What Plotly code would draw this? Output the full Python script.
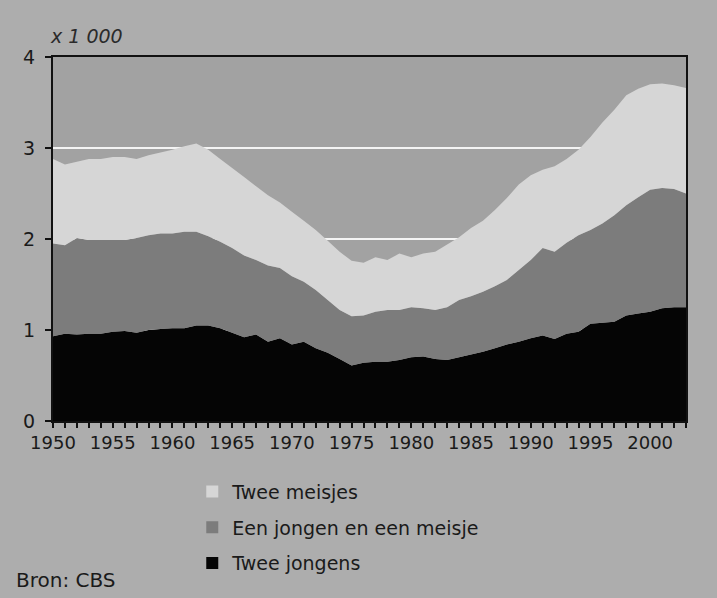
import plotly.graph_objects as go

years = list(range(1950, 2004))

# values x 1 000
twee_jongens = [0.93, 0.96, 0.95, 0.96, 0.96, 0.98, 0.99, 0.97, 1.00, 1.01,
                1.02, 1.02, 1.05, 1.05, 1.02, 0.97, 0.92, 0.95, 0.87, 0.91,
                0.84, 0.87, 0.80, 0.75, 0.68, 0.61, 0.64, 0.65, 0.65, 0.67,
                0.70, 0.71, 0.68, 0.67, 0.70, 0.73, 0.76, 0.80, 0.84, 0.87,
                0.91, 0.94, 0.90, 0.96, 0.98, 1.07, 1.08, 1.09, 1.16, 1.18,
                1.20, 1.24, 1.25, 1.25]
jongen_meisje = [1.02, 0.97, 1.06, 1.03, 1.03, 1.01, 1.00, 1.04, 1.04, 1.05,
                 1.04, 1.06, 1.03, 0.98, 0.95, 0.93, 0.90, 0.82, 0.84, 0.77,
                 0.75, 0.66, 0.64, 0.58, 0.54, 0.54, 0.52, 0.55, 0.57, 0.55,
                 0.55, 0.53, 0.54, 0.58, 0.63, 0.64, 0.66, 0.68, 0.71, 0.79,
                 0.86, 0.96, 0.96, 1.00, 1.06, 1.03, 1.09, 1.17, 1.21, 1.28,
                 1.34, 1.32, 1.30, 1.25]
twee_meisjes = [0.93, 0.89, 0.84, 0.89, 0.89, 0.91, 0.91, 0.87, 0.88, 0.89,
                0.92, 0.94, 0.97, 0.95, 0.91, 0.88, 0.86, 0.81, 0.77, 0.72,
                0.71, 0.67, 0.66, 0.65, 0.64, 0.61, 0.58, 0.60, 0.55, 0.62,
                0.55, 0.60, 0.64, 0.69, 0.69, 0.75, 0.78, 0.84, 0.90, 0.94,
                0.93, 0.86, 0.94, 0.92, 0.94, 1.02, 1.11, 1.16, 1.21, 1.19,
                1.16, 1.15, 1.14, 1.16]

series_names = ["Twee jongens", "Een jongen en een meisje", "Twee meisjes"]
series_values = [twee_jongens, jongen_meisje, twee_meisjes]
series_colors = ["#050505", "#7c7c7c", "#d6d6d6"]

tick_years = list(range(1950, 2001, 5))
y_ticks = [0, 1, 2, 3, 4]

FONT = "DejaVu Sans, Verdana, sans-serif"

fig = go.Figure()
for name, vals, col in zip(series_names, series_values, series_colors):
    fig.add_trace(go.Scatter(
        x=years, y=vals, name=name, stackgroup="one", mode="none",
        fillcolor=col, line=dict(width=0), showlegend=False,
        hoverinfo="x+y+name"))

# legend entries (small squares), listed top to bottom
for name, col in reversed(list(zip(series_names, series_colors))):
    fig.add_trace(go.Scatter(
        x=[None], y=[None], name=name, mode="markers",
        marker=dict(symbol="square", size=12, color=col,
                    line=dict(width=0)),
        legendgroup=name, showlegend=True))

fig.update_layout(
    width=717, height=598,
    margin=dict(l=53, r=31, t=57, b=177),
    paper_bgcolor="#adadad",
    plot_bgcolor="#a2a2a2",
    font=dict(family=FONT, size=18, color="#1a1a1a"),
    showlegend=True,
    legend=dict(
        x=0.220, y=-0.142, xanchor="left", yanchor="top",
        bgcolor="rgba(0,0,0,0)", font=dict(size=19, color="#1a1a1a"),
        traceorder="grouped", tracegroupgap=8, itemwidth=30),
    xaxis=dict(
        range=[1950, 2003], tickmode="array", tickvals=tick_years,
        ticktext=[str(y) for y in tick_years],
        ticks="outside", ticklen=5, tickcolor="#111", tickwidth=1.5,
        minor=dict(dtick=1, tick0=1950, ticks="outside", ticklen=5,
                   tickcolor="#111", tickwidth=1.5),
        showgrid=False, zeroline=False,
        showline=True, linecolor="#111", linewidth=1.5, mirror=True,
        tickfont=dict(size=18, color="#1a1a1a")),
    yaxis=dict(
        range=[0, 4], tickmode="array", tickvals=y_ticks,
        ticktext=[str(v) for v in y_ticks],
        ticks="outside", ticklen=6, tickcolor="#111", tickwidth=1.5,
        ticklabelstandoff=6,
        showgrid=True, gridcolor="#f4f4f4", gridwidth=2,
        zeroline=False,
        showline=True, linecolor="#111", linewidth=2, mirror=True,
        tickfont=dict(size=19, color="#1a1a1a")),
    annotations=[
        dict(text="<i>x 1 000</i>", xref="paper", yref="paper",
             x=-0.008, y=1.058, xanchor="left", yanchor="middle",
             showarrow=False, font=dict(size=19, color="#2a2a2a")),
        dict(text="Bron: CBS", xref="paper", yref="paper",
             x=-0.062, y=-0.437, xanchor="left", yanchor="middle",
             showarrow=False, font=dict(size=20, color="#1a1a1a")),
    ],
)

fig.write_html(
    "out.html",
    config={"displayModeBar": False},
    post_script="document.body.style.margin='0';"
                "document.body.style.overflow='hidden';")
